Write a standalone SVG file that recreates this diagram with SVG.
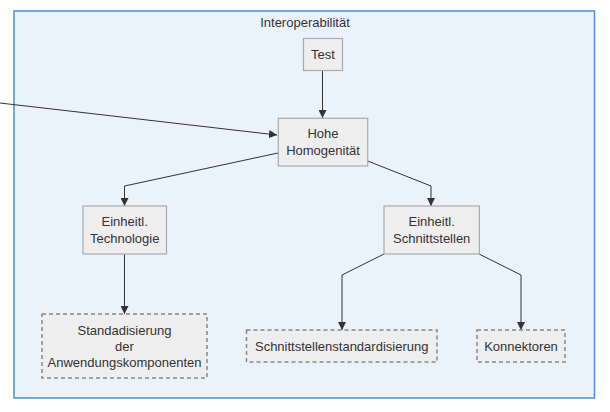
<svg xmlns="http://www.w3.org/2000/svg" width="610" height="412" viewBox="0 0 610 412">
<defs>
<marker id="arr" viewBox="0 0 10 10" refX="10" refY="5" markerWidth="8" markerHeight="8" markerUnits="userSpaceOnUse" orient="auto">
<path d="M0,0 L10,5 L0,10 z" fill="#333"/>
</marker>
</defs>
<style>
.cl{fill:#eaf2fc;stroke:#4f8fd0;stroke-width:1.5}
.n{fill:#eeeeee;stroke:#aaaaaa;stroke-width:1.2}
.d{fill:#eeeeee;stroke:#888888;stroke-width:1.5;stroke-dasharray:4 3}
.e{fill:none;stroke:#333;stroke-width:1;marker-end:url(#arr)}
text{font-family:"Liberation Sans",Arial,sans-serif;font-size:13px;fill:#333;text-anchor:middle}
</style>
<g id="cluster">
<rect class="cl" x="14" y="11" width="580.5" height="387"/>
<text x="305" y="27">Interoperabilität</text>
</g>
<g id="connectors">
<path class="e" d="M0,103 L277,135"/>
<path class="e" d="M322.5,71 L322.5,118"/>
<path class="e" d="M278,153 L124.5,186 L124.5,206"/>
<path class="e" d="M367.7,161 L431,186 L431,206"/>
<path class="e" d="M124.5,254 L124.5,314"/>
<path class="e" d="M384,254 L342,275 L342,330"/>
<path class="e" d="M479,254 L521,275 L521,330"/>
</g>
<g id="test">
<rect class="n" x="303.5" y="38.5" width="39" height="32"/>
<text x="323" y="59">Test</text>
</g>
<g id="hohe">
<rect class="n" x="278.3" y="118.3" width="89.4" height="47.7"/>
<text x="323" y="138">Hohe</text>
<text x="323" y="155">Homogenität</text>
</g>
<g id="technologie">
<rect class="n" x="83" y="206" width="83.5" height="48"/>
<text x="124.7" y="226">Einheitl.</text>
<text x="124.7" y="243">Technologie</text>
</g>
<g id="schnittstellen">
<rect class="n" x="384" y="206" width="95.4" height="48"/>
<text x="431.7" y="226">Einheitl.</text>
<text x="431.7" y="243">Schnittstellen</text>
</g>
<g id="standard">
<rect class="d" x="42" y="314" width="165" height="64"/>
<text x="124.5" y="335">Standadisierung</text>
<text x="124.5" y="351">der</text>
<text x="124.5" y="367">Anwendungskomponenten</text>
</g>
<g id="schnittstd">
<rect class="d" x="246.5" y="330" width="190.5" height="32"/>
<text x="341.7" y="351">Schnittstellenstandardisierung</text>
</g>
<g id="konnektoren">
<rect class="d" x="477" y="330" width="88" height="32"/>
<text x="521" y="351">Konnektoren</text>
</g>
</svg>
